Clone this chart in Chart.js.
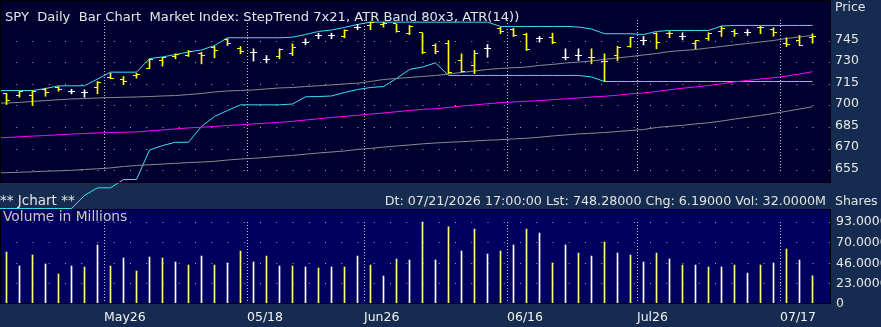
<!DOCTYPE html>
<html>
<head>
<meta charset="utf-8">
<title>SPY Daily Bar Chart</title>
<script src="https://cdn.jsdelivr.net/npm/chart.js@4.4.1/dist/chart.umd.min.js"></script>
<style>
  html, body { margin: 0; padding: 0; }
  body {
    position: relative;
    width: 881px;
    height: 327px;
    overflow: hidden;
    background: #152b4f;
    font-family: "DejaVu Sans", sans-serif;
  }
  canvas { position: absolute; left: 0; }
  #price-chart { top: 0; }
  #volume-chart { top: 209px; }
  .label {
    position: absolute;
    font-size: 12.5px;
    line-height: 14px;
    white-space: pre;
    color: #e4e4e4;
  }
</style>
</head>
<body>
<canvas id="price-chart" width="881" height="209"></canvas>
<canvas id="volume-chart" width="881" height="118"></canvas>
<div class="label" style="left:5px; top:10px; font-size:13.1px;">SPY  Daily  Bar Chart  Market Index: StepTrend 7x21, ATR Band 80x3, ATR(14))</div>
<div class="label" style="left:835px; top:0px;">Price</div>
<div class="label" style="left:0px; top:193px; font-size:13.5px;">** Jchart **</div>
<div class="label" style="right:55px; top:194px; font-size:12.7px;">Dt: 07/21/2026 17:00:00 Lst: 748.28000 Chg: 6.19000 Vol: 32.0000M</div>
<div class="label" style="left:835px; top:194px;">Shares</div>
<div class="label" style="left:3px; top:209px; font-size:13.8px; color:#c8c8c8;">Volume in Millions</div>
<script>
// Daily bars, oldest first
const barOpen = [
    708.9, 707.3, 707.0, 711.7, 712.9, 710.3, 709.6, 713.1, 719.9, 718.5,
    721.3, 726.4, 731.7, 734.5, 735.2, 736.8, 741.0, 746.2, 740.1, 737.4,
    732.7, 734.7, 736.6, 744.5, 749.2, 749.2, 748.5, 755.0, 756.2, 756.9,
    757.3, 750.6, 751.1, 742.4, 743.6, 731.7, 728.3, 739.9, 754.3, 753.2,
    749.9, 746.9, 747.6, 734.0, 735.2, 734.0, 731.2, 735.2, 741.5, 745.7,
    750.8, 750.6, 748.7, 743.4, 746.9, 752.2, 752.2, 751.5, 755.0, 753.4,
    743.8, 745.7, 747.8
];
const barHigh = [
    708.9, 710.3, 710.8, 712.4, 713.6, 711.7, 711.3, 717.1, 722.9, 720.6,
    722.9, 732.7, 734.0, 736.4, 738.7, 737.5, 741.7, 746.9, 741.5, 739.9,
    735.2, 739.9, 743.4, 746.9, 750.8, 750.8, 753.2, 756.9, 758.5, 758.6,
    757.3, 756.2, 751.1, 743.4, 745.7, 736.4, 738.7, 742.9, 755.0, 754.3,
    750.8, 748.5, 750.8, 739.9, 739.9, 739.9, 736.4, 741.7, 748.0, 748.5,
    751.1, 752.0, 751.1, 745.7, 751.1, 755.7, 753.4, 753.4, 755.7, 754.6,
    747.6, 749.2, 750.4
];
const barLow = [
    701.0, 706.1, 700.4, 706.8, 710.3, 708.5, 706.1, 708.5, 719.0, 714.8,
    719.4, 726.0, 727.8, 732.9, 734.5, 729.4, 733.6, 742.2, 736.4, 731.3,
    730.1, 732.9, 735.2, 742.7, 746.9, 746.9, 747.6, 753.2, 753.2, 755.0,
    751.5, 749.7, 736.4, 736.4, 722.5, 723.6, 722.5, 734.0, 750.4, 748.5,
    738.7, 744.5, 743.4, 732.2, 731.7, 729.4, 717.1, 731.7, 741.0, 742.7,
    739.9, 747.6, 746.2, 739.9, 745.7, 748.5, 748.7, 749.2, 750.4, 748.7,
    741.5, 742.0, 743.8
];
const barClose = [
    703.5, 710.0, 710.1, 709.4, 711.5, 710.3, 709.6, 716.4, 719.3, 717.1,
    722.0, 732.2, 733.8, 735.9, 738.0, 735.5, 739.0, 743.6, 738.2, 737.4,
    732.7, 739.4, 741.0, 744.5, 749.2, 749.2, 752.7, 755.0, 758.3, 757.8,
    752.0, 755.5, 737.3, 738.2, 723.4, 724.3, 736.4, 739.9, 752.0, 749.2,
    739.2, 746.9, 744.5, 734.0, 735.2, 733.6, 730.9, 741.0, 747.6, 745.7,
    744.5, 750.8, 748.7, 745.7, 750.8, 754.1, 750.4, 751.5, 754.8, 751.5,
    742.9, 742.1, 748.3
];
// Volume in millions of shares
const volume = [
    59.0, 43.1, 55.6, 45.4, 34.0, 43.1, 42.0, 66.9, 43.1, 52.2,
    37.4, 53.3, 52.2, 47.6, 44.2, 54.4, 44.2, 46.5, 60.1, 47.6,
    54.4, 43.1, 43.1, 42.0, 40.8, 42.0, 42.0, 54.4, 44.2, 31.7,
    51.0, 49.9, 93.0, 49.9, 87.6, 60.1, 85.0, 56.7, 60.1, 66.9,
    85.0, 80.5, 46.5, 66.9, 57.8, 54.4, 70.3, 57.8, 55.6, 47.6,
    57.8, 51.0, 44.2, 44.2, 42.0, 42.0, 44.2, 35.1, 44.2, 46.5,
    62.4, 49.9, 32.0
];
// Y = yellow, W = white volume bar
const volumeColorKeys = 'YWYWYWYWYWYWYWYWYWYWYWYWYWYWYWYWYWYWYWYWYWYWYWYWYWYWYWYWYWYWYWY';

// Indicator lines: first value belongs to the bar just before the window
const stepUpper = [
    710.8,
    710.8, 710.8, 710.8, 712.2, 714.0, 714.1, 714.1, 718.8, 723.6, 723.6,
    723.6, 733.1, 734.2, 735.9, 737.7, 739.1, 742.2, 747.6, 747.6, 747.6,
    747.6, 747.6, 748.0, 749.9, 752.0, 753.0, 754.8, 756.9, 758.5, 758.5,
    758.5, 758.5, 758.5, 758.5, 758.5, 758.5, 758.5, 758.5, 755.5, 755.5,
    755.5, 755.5, 755.5, 755.5, 755.1, 753.7, 750.4, 750.4, 750.4, 749.9,
    752.0, 752.7, 752.7, 752.7, 752.7, 755.8, 756.2, 756.2, 756.2, 756.2,
    756.2, 756.2, 756.2
];
const stepLower = [
    628.5,
    628.5, 628.5, 628.5, 628.5, 628.5, 628.5, 637.6, 642.9, 642.9, 648.7,
    648.7, 669.3, 672.4, 674.7, 674.7, 685.7, 692.7, 696.9, 700.8, 700.8,
    700.8, 700.8, 701.4, 706.4, 706.6, 707.0, 709.4, 711.5, 712.9, 713.6,
    719.2, 725.5, 727.2, 730.1, 721.3, 721.3, 721.3, 721.3, 721.3, 721.3,
    721.3, 721.3, 721.3, 721.3, 721.3, 720.2, 717.1, 717.1, 717.1, 717.1,
    717.1, 717.1, 717.1, 717.1, 717.1, 717.1, 717.1, 717.1, 717.1, 717.1,
    717.1, 717.1, 717.1
];
const bandUpper = [
    701.8,
    702.1, 702.5, 703.2, 703.8, 704.4, 704.9, 705.2, 705.6, 705.9, 706.1,
    706.3, 706.6, 707.0, 707.3, 708.0, 708.7, 709.8, 710.5, 710.8, 711.2,
    711.9, 712.6, 712.9, 713.6, 714.1, 714.7, 715.4, 715.9, 717.1, 718.5,
    719.2, 719.9, 720.6, 721.3, 722.3, 723.4, 724.4, 725.5, 726.2, 726.7,
    727.2, 728.3, 729.0, 730.0, 730.6, 731.4, 732.5, 733.5, 734.5, 735.6,
    736.6, 738.0, 738.7, 739.4, 740.5, 741.5, 742.6, 743.6, 744.7, 745.7,
    747.1, 748.2, 749.2
];
const bandLower = [
    653.3,
    653.5, 653.8, 654.1, 654.5, 654.8, 655.1, 655.7, 656.2, 656.8, 657.8,
    658.5, 659.0, 659.5, 660.0, 660.5, 660.9, 661.4, 662.3, 663.0, 663.5,
    664.1, 664.9, 665.5, 666.4, 667.2, 667.9, 668.6, 669.7, 670.4, 671.3,
    672.1, 672.8, 673.6, 674.2, 674.7, 675.1, 675.6, 676.1, 676.5, 677.0,
    677.5, 678.2, 679.1, 679.8, 680.5, 681.0, 681.5, 682.2, 682.9, 683.6,
    685.0, 685.8, 686.5, 687.5, 688.3, 689.5, 690.9, 692.1, 693.4, 694.8,
    696.3, 697.9, 699.5
];
const bandMiddle = [
    677.6,
    678.0, 678.5, 679.0, 679.4, 679.9, 680.4, 680.8, 681.2, 681.5, 681.7,
    681.9, 682.6, 683.3, 684.0, 684.7, 685.2, 685.7, 686.4, 686.9, 687.5,
    688.0, 688.6, 689.3, 690.2, 691.1, 692.0, 692.7, 693.5, 694.4, 695.1,
    696.0, 696.9, 697.6, 698.1, 699.0, 700.0, 700.7, 701.6, 702.3, 702.8,
    703.3, 703.8, 704.4, 705.0, 705.6, 706.3, 706.8, 707.5, 708.5, 709.1,
    710.1, 711.3, 712.4, 713.3, 714.3, 715.5, 716.8, 717.8, 718.8, 719.7,
    720.9, 722.3, 723.9
];

// Axis labels
const monthStart = [8, 19, 28, 39, 49, 60];
const monthLabels = ['May26', '05/18', 'Jun26', '06/16', 'Jul26', '07/17'];
const priceTicks = [655, 670, 685, 700, 715, 730, 745];
const volumeTicks = [0, 23, 46, 70, 93];

// Colours
const YELLOW = '#ffff00';
const WHITE = '#ffffff';
const CYAN = '#40e0f0';
const GRAY = '#8a8a8a';
const MAGENTA = '#ff00ff';
const DOTS = '#a4a4bc';

const barColors = barOpen.map((o, i) => (o === barClose[i] ? WHITE : YELLOW));
const volumeColors = volumeColorKeys.split('').map(k => (k === 'W' ? WHITE : '#ffff70'));

// X range: one unit per bar, bar 0 sits 6.5px in from the left edge
const X_MIN = -0.5;
const X_MAX = 63.423;

Chart.defaults.font.family = '"DejaVu Sans", sans-serif';
Chart.defaults.font.size = 12.5;
Chart.defaults.color = '#e4e4e4';

// Fill and outline the plot area
const panelBg = {
    id: 'panelBg',
    beforeDraw(chart, args, opts) {
        const { ctx, chartArea: a } = chart;
        ctx.save();
        ctx.fillStyle = opts.color;
        ctx.fillRect(a.left, a.top, a.right - a.left, a.bottom - a.top);
        ctx.restore();
    },
    afterDraw(chart) {
        const { ctx, chartArea: a } = chart;
        ctx.save();
        ctx.strokeStyle = '#000000';
        ctx.lineWidth = 1;
        ctx.strokeRect(a.left + 0.5, a.top + 0.5, a.right - a.left - 1, a.bottom - a.top - 1);
        ctx.restore();
    }
};

// Dotted vertical separators at the start of each labelled period
const monthLines = {
    id: 'monthLines',
    beforeDatasetsDraw(chart, args, opts) {
        const { ctx, scales: { x, y } } = chart;
        const top = Math.round(y.getPixelForValue(opts.from));
        const bottom = Math.round(y.getPixelForValue(opts.to));
        ctx.save();
        ctx.strokeStyle = opts.color;
        ctx.lineWidth = 1;
        ctx.setLineDash([1, 2]);
        monthStart.forEach(i => {
            const px = Math.round(x.getPixelForValue(i - 0.5)) + 0.5;
            ctx.beginPath();
            ctx.moveTo(px, top);
            ctx.lineTo(px, bottom);
            ctx.stroke();
        });
        ctx.restore();
    }
};

// Open tick to the left, close tick to the right of each bar
const ohlcTicks = {
    id: 'ohlcTicks',
    afterDatasetsDraw(chart) {
        const { ctx, scales: { x, y } } = chart;
        ctx.save();
        ctx.lineWidth = 1;
        barOpen.forEach((open, i) => {
            const cx = x.getPixelForValue(i);
            const yo = Math.floor(y.getPixelForValue(open)) + 0.5;
            const yc = Math.floor(y.getPixelForValue(barClose[i])) + 0.5;
            ctx.strokeStyle = barColors[i];
            ctx.beginPath();
            ctx.moveTo(cx - 3.5, yo);
            ctx.lineTo(cx - 0.5, yo);
            ctx.moveTo(cx + 0.5, yc);
            ctx.lineTo(cx + 3.5, yc);
            ctx.stroke();
        });
        ctx.restore();
    }
};

function lineDataset(values, color, extra) {
    return Object.assign({
        type: 'line',
        data: values.map((v, k) => ({ x: k - 1, y: v })),
        borderColor: color,
        borderWidth: 1,
        pointRadius: 0,
        tension: 0,
        order: 2
    }, extra || {});
}

function fixWidth(scale) {
    scale.width = 50;
    scale.paddingTop = 0;
    scale.paddingBottom = 0;
}

// Price panel
new Chart(document.getElementById('price-chart'), {
    type: 'line',
    data: {
        datasets: [
            {
                type: 'bar',
                data: barHigh.map((h, i) => ({ x: i, y: [barLow[i], h] })),
                backgroundColor: barColors,
                barThickness: 1,
                order: 1
            },
            lineDataset(bandLower, GRAY),
            lineDataset(bandUpper, GRAY),
            lineDataset(bandMiddle, MAGENTA),
            lineDataset(stepLower, CYAN, { clip: { left: 0, top: 0, right: 0, bottom: 26 } }),
            lineDataset(stepUpper, CYAN)
        ]
    },
    options: {
        responsive: false,
        animation: false,
        devicePixelRatio: 1,
        layout: { padding: { left: 0, top: 0, right: 0, bottom: 26 } },
        plugins: {
            legend: { display: false },
            tooltip: { enabled: false },
            panelBg: { color: '#000030' },
            monthLines: { from: 760, to: 655, color: '#c4c4d4' }
        },
        scales: {
            x: { type: 'linear', min: X_MIN, max: X_MAX, offset: false, display: false },
            y: {
                position: 'right',
                min: 646.28,
                max: 773.95,
                afterFit: fixWidth,
                afterBuildTicks: s => { s.ticks = priceTicks.map(v => ({ value: v })); },
                grid: { color: DOTS, lineWidth: 1, drawTicks: false },
                border: { display: false, dash: [1, 15.25] },
                ticks: { padding: 4, labelOffset: -2, color: '#e8e8e8' }
            }
        }
    },
    plugins: [panelBg, monthLines, ohlcTicks]
});

// Volume panel
new Chart(document.getElementById('volume-chart'), {
    type: 'bar',
    data: {
        datasets: [{
            data: volume.map((v, i) => ({ x: i, y: v })),
            backgroundColor: volumeColors,
            barThickness: 1
        }]
    },
    options: {
        responsive: false,
        animation: false,
        devicePixelRatio: 1,
        layout: { padding: 0 },
        plugins: {
            legend: { display: false },
            tooltip: { enabled: false },
            panelBg: { color: '#00005e' },
            monthLines: { from: 93, to: 2, color: '#c4c4d4' }
        },
        scales: {
            x: {
                type: 'linear',
                min: X_MIN,
                max: X_MAX,
                offset: false,
                afterBuildTicks: s => { s.ticks = monthStart.map(i => ({ value: i - 0.5 })); },
                afterFit: s => { s.height = 23; s.paddingLeft = 0; s.paddingRight = 0; },
                grid: { display: false, drawTicks: false },
                border: { display: false },
                ticks: {
                    align: 'start',
                    autoSkip: false,
                    maxRotation: 0,
                    padding: 6,
                    color: '#f2f2f2',
                    callback: (v, k) => monthLabels[k]
                }
            },
            y: {
                position: 'right',
                min: 0,
                max: 107.75,
                afterFit: fixWidth,
                afterBuildTicks: s => { s.ticks = volumeTicks.map(v => ({ value: v })); },
                grid: {
                    color: c => (c.tick && c.tick.value === 0 ? 'rgba(0,0,0,0)' : DOTS),
                    lineWidth: 1,
                    drawTicks: false
                },
                border: { display: false, dash: [1, 15.25] },
                ticks: {
                    padding: 5,
                    color: '#e8e8e8',
                    callback: v => (v === 0 ? '0' : v.toFixed(4) + 'M')
                }
            }
        }
    },
    plugins: [panelBg, monthLines]
});
</script>
</body>
</html>
